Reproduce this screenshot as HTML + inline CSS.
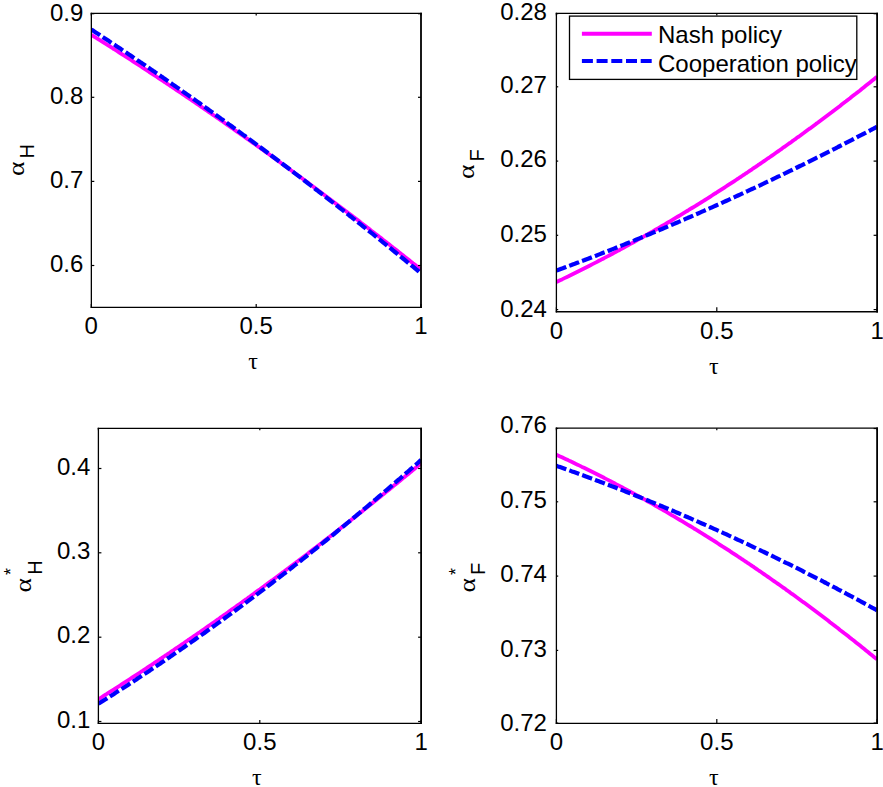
<!DOCTYPE html>
<html><head><meta charset="utf-8"><style>
html,body{margin:0;padding:0;background:#fff;width:883px;height:787px;overflow:hidden}
svg{display:block}
text{font-family:"Liberation Sans", sans-serif;font-size:24px;fill:#000}
</style></head><body>
<svg width="883" height="787" viewBox="0 0 883 787">
<rect width="883" height="787" fill="#fff"/>
<clipPath id="cTL"><rect x="91.3" y="13.4" width="329.6" height="294.0"/></clipPath>
<polyline clip-path="url(#cTL)" points="91.3,34.8 93.0,35.8 95.0,37.1 97.0,38.3 99.0,39.6 101.0,40.8 103.0,42.1 105.0,43.4 107.0,44.6 109.0,45.9 111.0,47.2 113.0,48.5 115.0,49.7 117.0,51.0 119.0,52.3 121.0,53.6 123.0,54.9 125.0,56.1 127.0,57.4 129.0,58.7 131.0,60.0 133.0,61.3 135.0,62.6 137.0,63.9 139.0,65.2 141.0,66.5 143.0,67.8 145.0,69.1 147.0,70.4 149.0,71.8 151.0,73.1 153.0,74.4 155.0,75.7 157.0,77.0 159.0,78.4 161.0,79.7 163.0,81.0 165.0,82.3 167.0,83.7 169.0,85.0 171.0,86.3 173.0,87.7 175.0,89.0 177.0,90.4 179.0,91.7 181.0,93.0 183.0,94.4 185.0,95.7 187.0,97.1 189.0,98.4 191.0,99.8 193.0,101.2 195.0,102.5 197.0,103.9 199.0,105.2 201.0,106.6 203.0,108.0 205.0,109.4 207.0,110.7 209.0,112.1 211.0,113.5 213.0,114.9 215.0,116.2 217.0,117.6 219.0,119.0 221.0,120.4 223.0,121.8 225.0,123.2 227.0,124.6 229.0,126.0 231.0,127.4 233.0,128.8 235.0,130.2 237.0,131.6 239.0,133.0 241.0,134.4 243.0,135.8 245.0,137.2 247.0,138.6 249.0,140.0 251.0,141.5 253.0,142.9 255.0,144.3 257.0,145.7 259.0,147.1 261.0,148.6 263.0,150.0 265.0,151.4 267.0,152.9 269.0,154.3 271.0,155.8 273.0,157.2 275.0,158.6 277.0,160.1 279.0,161.5 281.0,163.0 283.0,164.4 285.0,165.9 287.0,167.3 289.0,168.8 291.0,170.3 293.0,171.7 295.0,173.2 297.0,174.7 299.0,176.1 301.0,177.6 303.0,179.1 305.0,180.5 307.0,182.0 309.0,183.5 311.0,185.0 313.0,186.5 315.0,187.9 317.0,189.4 319.0,190.9 321.0,192.4 323.0,193.9 325.0,195.4 327.0,196.9 329.0,198.4 331.0,199.9 333.0,201.4 335.0,202.9 337.0,204.4 339.0,205.9 341.0,207.4 343.0,208.9 345.0,210.5 347.0,212.0 349.0,213.5 351.0,215.0 353.0,216.6 355.0,218.1 357.0,219.6 359.0,221.1 361.0,222.7 363.0,224.2 365.0,225.7 367.0,227.3 369.0,228.8 371.0,230.4 373.0,231.9 375.0,233.5 377.0,235.0 379.0,236.6 381.0,238.1 383.0,239.7 385.0,241.2 387.0,242.8 389.0,244.3 391.0,245.9 393.0,247.5 395.0,249.0 397.0,250.6 399.0,252.2 401.0,253.8 403.0,255.3 405.0,256.9 407.0,258.5 409.0,260.1 411.0,261.7 413.0,263.3 415.0,264.8 417.0,266.4 419.0,268.0 421.0,269.6" fill="none" stroke="#ff00ff" stroke-width="3.8"  stroke-linejoin="round"/>
<polyline clip-path="url(#cTL)" points="91.3,29.5 93.0,30.6 95.0,31.9 97.0,33.2 99.0,34.5 101.0,35.9 103.0,37.2 105.0,38.5 107.0,39.8 109.0,41.1 111.0,42.5 113.0,43.8 115.0,45.1 117.0,46.5 119.0,47.8 121.0,49.1 123.0,50.5 125.0,51.8 127.0,53.1 129.0,54.5 131.0,55.8 133.0,57.2 135.0,58.5 137.0,59.9 139.0,61.2 141.0,62.6 143.0,63.9 145.0,65.3 147.0,66.7 149.0,68.0 151.0,69.4 153.0,70.8 155.0,72.1 157.0,73.5 159.0,74.9 161.0,76.3 163.0,77.6 165.0,79.0 167.0,80.4 169.0,81.8 171.0,83.2 173.0,84.6 175.0,86.0 177.0,87.4 179.0,88.8 181.0,90.2 183.0,91.6 185.0,93.0 187.0,94.4 189.0,95.8 191.0,97.2 193.0,98.6 195.0,100.0 197.0,101.4 199.0,102.8 201.0,104.3 203.0,105.7 205.0,107.1 207.0,108.5 209.0,110.0 211.0,111.4 213.0,112.8 215.0,114.3 217.0,115.7 219.0,117.1 221.0,118.6 223.0,120.0 225.0,121.5 227.0,122.9 229.0,124.4 231.0,125.8 233.0,127.3 235.0,128.7 237.0,130.2 239.0,131.6 241.0,133.1 243.0,134.6 245.0,136.0 247.0,137.5 249.0,139.0 251.0,140.4 253.0,141.9 255.0,143.4 257.0,144.9 259.0,146.4 261.0,147.8 263.0,149.3 265.0,150.8 267.0,152.3 269.0,153.8 271.0,155.3 273.0,156.8 275.0,158.3 277.0,159.8 279.0,161.3 281.0,162.8 283.0,164.3 285.0,165.8 287.0,167.3 289.0,168.8 291.0,170.3 293.0,171.8 295.0,173.4 297.0,174.9 299.0,176.4 301.0,177.9 303.0,179.5 305.0,181.0 307.0,182.5 309.0,184.1 311.0,185.6 313.0,187.1 315.0,188.7 317.0,190.2 319.0,191.8 321.0,193.3 323.0,194.9 325.0,196.4 327.0,198.0 329.0,199.5 331.0,201.1 333.0,202.6 335.0,204.2 337.0,205.7 339.0,207.3 341.0,208.9 343.0,210.4 345.0,212.0 347.0,213.6 349.0,215.2 351.0,216.7 353.0,218.3 355.0,219.9 357.0,221.5 359.0,223.1 361.0,224.7 363.0,226.3 365.0,227.9 367.0,229.4 369.0,231.0 371.0,232.6 373.0,234.2 375.0,235.8 377.0,237.5 379.0,239.1 381.0,240.7 383.0,242.3 385.0,243.9 387.0,245.5 389.0,247.1 391.0,248.7 393.0,250.4 395.0,252.0 397.0,253.6 399.0,255.2 401.0,256.9 403.0,258.5 405.0,260.1 407.0,261.8 409.0,263.4 411.0,265.1 413.0,266.7 415.0,268.3 417.0,270.0 419.0,271.6 421.0,273.3" fill="none" stroke="#0000ff" stroke-width="4.2" stroke-dasharray="10.5 3.2" stroke-linejoin="round"/>
<line x1="91.35" y1="12.75" x2="91.35" y2="308.10" stroke="#000" stroke-width="1.30"/>
<line x1="421.00" y1="12.75" x2="421.00" y2="308.10" stroke="#000" stroke-width="1.80"/>
<line x1="90.70" y1="13.40" x2="421.90" y2="13.40" stroke="#000" stroke-width="1.30"/>
<line x1="90.70" y1="307.40" x2="421.90" y2="307.40" stroke="#000" stroke-width="1.40"/>
<line x1="91.3" y1="265.5" x2="94.3" y2="265.5" stroke="#000" stroke-width="1.2"/>
<line x1="421.0" y1="265.5" x2="418.0" y2="265.5" stroke="#000" stroke-width="1.2"/>
<text x="83.3" y="271.7" text-anchor="end">0.6</text>
<line x1="91.3" y1="181.4" x2="94.3" y2="181.4" stroke="#000" stroke-width="1.2"/>
<line x1="421.0" y1="181.4" x2="418.0" y2="181.4" stroke="#000" stroke-width="1.2"/>
<text x="83.3" y="187.6" text-anchor="end">0.7</text>
<line x1="91.3" y1="97.3" x2="94.3" y2="97.3" stroke="#000" stroke-width="1.2"/>
<line x1="421.0" y1="97.3" x2="418.0" y2="97.3" stroke="#000" stroke-width="1.2"/>
<text x="83.3" y="103.5" text-anchor="end">0.8</text>
<line x1="91.3" y1="13.7" x2="94.3" y2="13.7" stroke="#000" stroke-width="1.2"/>
<line x1="421.0" y1="13.7" x2="418.0" y2="13.7" stroke="#000" stroke-width="1.2"/>
<text x="83.3" y="20.8" text-anchor="end">0.9</text>
<line x1="91.3" y1="307.4" x2="91.3" y2="303.9" stroke="#000" stroke-width="1.2"/>
<line x1="91.3" y1="13.4" x2="91.3" y2="15.4" stroke="#000" stroke-width="1.2"/>
<text x="91.3" y="334.4" text-anchor="middle">0</text>
<line x1="256.2" y1="307.4" x2="256.2" y2="303.9" stroke="#000" stroke-width="1.2"/>
<line x1="256.2" y1="13.4" x2="256.2" y2="15.4" stroke="#000" stroke-width="1.2"/>
<text x="256.2" y="334.4" text-anchor="middle">0.5</text>
<line x1="421.0" y1="307.4" x2="421.0" y2="303.9" stroke="#000" stroke-width="1.2"/>
<line x1="421.0" y1="13.4" x2="421.0" y2="15.4" stroke="#000" stroke-width="1.2"/>
<text x="421.0" y="334.4" text-anchor="middle">1</text>
<text x="253.2" y="369.4" text-anchor="middle" style='font-family:"Liberation Serif", serif;font-size:24px'>&#964;</text>
<clipPath id="cTR"><rect x="556.4" y="13.4" width="320.7" height="298.3"/></clipPath>
<polyline clip-path="url(#cTR)" points="556.4,282.1 558.0,281.3 560.0,280.3 562.0,279.4 564.0,278.4 566.0,277.4 568.0,276.5 570.0,275.5 572.0,274.5 574.0,273.5 576.0,272.5 578.0,271.5 580.0,270.5 582.0,269.5 584.0,268.5 586.0,267.5 588.0,266.5 590.0,265.5 592.0,264.4 594.0,263.4 596.0,262.4 598.0,261.3 600.0,260.3 602.0,259.2 604.0,258.2 606.0,257.1 608.0,256.1 610.0,255.0 612.0,254.0 614.0,252.9 616.0,251.8 618.0,250.7 620.0,249.7 622.0,248.6 624.0,247.5 626.0,246.4 628.0,245.3 630.0,244.2 632.0,243.1 634.0,242.0 636.0,240.9 638.0,239.7 640.0,238.6 642.0,237.5 644.0,236.4 646.0,235.2 648.0,234.1 650.0,233.0 652.0,231.8 654.0,230.7 656.0,229.5 658.0,228.3 660.0,227.2 662.0,226.0 664.0,224.8 666.0,223.7 668.0,222.5 670.0,221.3 672.0,220.1 674.0,218.9 676.0,217.7 678.0,216.5 680.0,215.3 682.0,214.1 684.0,212.9 686.0,211.7 688.0,210.5 690.0,209.2 692.0,208.0 694.0,206.8 696.0,205.6 698.0,204.3 700.0,203.1 702.0,201.8 704.0,200.6 706.0,199.3 708.0,198.1 710.0,196.8 712.0,195.5 714.0,194.2 716.0,193.0 718.0,191.7 720.0,190.4 722.0,189.1 724.0,187.8 726.0,186.5 728.0,185.2 730.0,183.9 732.0,182.6 734.0,181.3 736.0,180.0 738.0,178.7 740.0,177.3 742.0,176.0 744.0,174.7 746.0,173.3 748.0,172.0 750.0,170.6 752.0,169.3 754.0,167.9 756.0,166.6 758.0,165.2 760.0,163.9 762.0,162.5 764.0,161.1 766.0,159.7 768.0,158.3 770.0,157.0 772.0,155.6 774.0,154.2 776.0,152.8 778.0,151.4 780.0,150.0 782.0,148.6 784.0,147.1 786.0,145.7 788.0,144.3 790.0,142.9 792.0,141.4 794.0,140.0 796.0,138.6 798.0,137.1 800.0,135.7 802.0,134.2 804.0,132.8 806.0,131.3 808.0,129.8 810.0,128.4 812.0,126.9 814.0,125.4 816.0,123.9 818.0,122.5 820.0,121.0 822.0,119.5 824.0,118.0 826.0,116.5 828.0,115.0 830.0,113.5 832.0,112.0 834.0,110.4 836.0,108.9 838.0,107.4 840.0,105.9 842.0,104.3 844.0,102.8 846.0,101.3 848.0,99.7 850.0,98.2 852.0,96.6 854.0,95.0 856.0,93.5 858.0,91.9 860.0,90.4 862.0,88.8 864.0,87.2 866.0,85.6 868.0,84.0 870.0,82.4 872.0,80.8 874.0,79.2 876.0,77.6 877.1,76.8" fill="none" stroke="#ff00ff" stroke-width="3.8"  stroke-linejoin="round"/>
<polyline clip-path="url(#cTR)" points="556.4,270.6 558.0,270.0 560.0,269.3 562.0,268.6 564.0,267.8 566.0,267.1 568.0,266.3 570.0,265.6 572.0,264.8 574.0,264.1 576.0,263.3 578.0,262.6 580.0,261.8 582.0,261.0 584.0,260.3 586.0,259.5 588.0,258.8 590.0,258.0 592.0,257.2 594.0,256.4 596.0,255.7 598.0,254.9 600.0,254.1 602.0,253.3 604.0,252.5 606.0,251.8 608.0,251.0 610.0,250.2 612.0,249.4 614.0,248.6 616.0,247.8 618.0,247.0 620.0,246.2 622.0,245.4 624.0,244.6 626.0,243.8 628.0,243.0 630.0,242.2 632.0,241.4 634.0,240.6 636.0,239.7 638.0,238.9 640.0,238.1 642.0,237.3 644.0,236.5 646.0,235.6 648.0,234.8 650.0,234.0 652.0,233.1 654.0,232.3 656.0,231.5 658.0,230.6 660.0,229.8 662.0,229.0 664.0,228.1 666.0,227.3 668.0,226.4 670.0,225.6 672.0,224.7 674.0,223.9 676.0,223.0 678.0,222.2 680.0,221.3 682.0,220.4 684.0,219.6 686.0,218.7 688.0,217.8 690.0,217.0 692.0,216.1 694.0,215.2 696.0,214.3 698.0,213.5 700.0,212.6 702.0,211.7 704.0,210.8 706.0,209.9 708.0,209.1 710.0,208.2 712.0,207.3 714.0,206.4 716.0,205.5 718.0,204.6 720.0,203.7 722.0,202.8 724.0,201.9 726.0,201.0 728.0,200.1 730.0,199.2 732.0,198.2 734.0,197.3 736.0,196.4 738.0,195.5 740.0,194.6 742.0,193.7 744.0,192.7 746.0,191.8 748.0,190.9 750.0,189.9 752.0,189.0 754.0,188.1 756.0,187.1 758.0,186.2 760.0,185.3 762.0,184.3 764.0,183.4 766.0,182.4 768.0,181.5 770.0,180.5 772.0,179.6 774.0,178.6 776.0,177.7 778.0,176.7 780.0,175.8 782.0,174.8 784.0,173.8 786.0,172.9 788.0,171.9 790.0,170.9 792.0,170.0 794.0,169.0 796.0,168.0 798.0,167.0 800.0,166.0 802.0,165.1 804.0,164.1 806.0,163.1 808.0,162.1 810.0,161.1 812.0,160.1 814.0,159.1 816.0,158.1 818.0,157.1 820.0,156.1 822.0,155.1 824.0,154.1 826.0,153.1 828.0,152.1 830.0,151.1 832.0,150.1 834.0,149.1 836.0,148.1 838.0,147.0 840.0,146.0 842.0,145.0 844.0,144.0 846.0,142.9 848.0,141.9 850.0,140.9 852.0,139.9 854.0,138.8 856.0,137.8 858.0,136.7 860.0,135.7 862.0,134.7 864.0,133.6 866.0,132.6 868.0,131.5 870.0,130.5 872.0,129.4 874.0,128.4 876.0,127.3 877.1,126.7" fill="none" stroke="#0000ff" stroke-width="4.2" stroke-dasharray="10.5 3.2" stroke-linejoin="round"/>
<line x1="556.40" y1="12.75" x2="556.40" y2="312.40" stroke="#000" stroke-width="1.30"/>
<line x1="877.10" y1="12.75" x2="877.10" y2="312.40" stroke="#000" stroke-width="1.80"/>
<line x1="555.75" y1="13.40" x2="878.00" y2="13.40" stroke="#000" stroke-width="1.30"/>
<line x1="555.75" y1="311.70" x2="878.00" y2="311.70" stroke="#000" stroke-width="1.40"/>
<line x1="556.4" y1="309.6" x2="558.2" y2="309.6" stroke="#000" stroke-width="1.2"/>
<line x1="877.1" y1="309.6" x2="873.6" y2="309.6" stroke="#000" stroke-width="1.2"/>
<text x="546.9" y="317.3" text-anchor="end">0.24</text>
<line x1="556.4" y1="235.3" x2="558.2" y2="235.3" stroke="#000" stroke-width="1.2"/>
<line x1="877.1" y1="235.3" x2="873.6" y2="235.3" stroke="#000" stroke-width="1.2"/>
<text x="546.9" y="241.5" text-anchor="end">0.25</text>
<line x1="556.4" y1="161.1" x2="558.2" y2="161.1" stroke="#000" stroke-width="1.2"/>
<line x1="877.1" y1="161.1" x2="873.6" y2="161.1" stroke="#000" stroke-width="1.2"/>
<text x="546.9" y="167.2" text-anchor="end">0.26</text>
<line x1="556.4" y1="86.8" x2="558.2" y2="86.8" stroke="#000" stroke-width="1.2"/>
<line x1="877.1" y1="86.8" x2="873.6" y2="86.8" stroke="#000" stroke-width="1.2"/>
<text x="546.9" y="93.0" text-anchor="end">0.27</text>
<line x1="556.4" y1="13.7" x2="558.2" y2="13.7" stroke="#000" stroke-width="1.2"/>
<line x1="877.1" y1="13.7" x2="873.6" y2="13.7" stroke="#000" stroke-width="1.2"/>
<text x="546.9" y="19.7" text-anchor="end">0.28</text>
<line x1="556.4" y1="311.7" x2="556.4" y2="307.2" stroke="#000" stroke-width="1.2"/>
<line x1="556.4" y1="13.4" x2="556.4" y2="15.4" stroke="#000" stroke-width="1.2"/>
<text x="556.4" y="338.7" text-anchor="middle">0</text>
<line x1="716.8" y1="311.7" x2="716.8" y2="307.2" stroke="#000" stroke-width="1.2"/>
<line x1="716.8" y1="13.4" x2="716.8" y2="15.4" stroke="#000" stroke-width="1.2"/>
<text x="716.8" y="338.7" text-anchor="middle">0.5</text>
<line x1="877.1" y1="311.7" x2="877.1" y2="307.2" stroke="#000" stroke-width="1.2"/>
<line x1="877.1" y1="13.4" x2="877.1" y2="15.4" stroke="#000" stroke-width="1.2"/>
<text x="877.1" y="338.7" text-anchor="middle">1</text>
<text x="713.8" y="373.7" text-anchor="middle" style='font-family:"Liberation Serif", serif;font-size:24px'>&#964;</text>
<clipPath id="cBL"><rect x="98.4" y="428.3" width="322.7" height="295.1"/></clipPath>
<polyline clip-path="url(#cBL)" points="98.4,699.3 100.0,698.3 102.0,697.0 104.0,695.7 106.0,694.5 108.0,693.2 110.0,691.9 112.0,690.6 114.0,689.4 116.0,688.1 118.0,686.8 120.0,685.5 122.0,684.2 124.0,682.9 126.0,681.6 128.0,680.3 130.0,679.0 132.0,677.7 134.0,676.4 136.0,675.1 138.0,673.8 140.0,672.5 142.0,671.2 144.0,669.8 146.0,668.5 148.0,667.2 150.0,665.9 152.0,664.6 154.0,663.2 156.0,661.9 158.0,660.6 160.0,659.2 162.0,657.9 164.0,656.5 166.0,655.2 168.0,653.8 170.0,652.5 172.0,651.1 174.0,649.8 176.0,648.4 178.0,647.1 180.0,645.7 182.0,644.3 184.0,643.0 186.0,641.6 188.0,640.2 190.0,638.9 192.0,637.5 194.0,636.1 196.0,634.7 198.0,633.3 200.0,632.0 202.0,630.6 204.0,629.2 206.0,627.8 208.0,626.4 210.0,625.0 212.0,623.6 214.0,622.2 216.0,620.8 218.0,619.4 220.0,617.9 222.0,616.5 224.0,615.1 226.0,613.7 228.0,612.3 230.0,610.8 232.0,609.4 234.0,608.0 236.0,606.6 238.0,605.1 240.0,603.7 242.0,602.3 244.0,600.8 246.0,599.4 248.0,597.9 250.0,596.5 252.0,595.0 254.0,593.6 256.0,592.1 258.0,590.6 260.0,589.2 262.0,587.7 264.0,586.3 266.0,584.8 268.0,583.3 270.0,581.8 272.0,580.4 274.0,578.9 276.0,577.4 278.0,575.9 280.0,574.4 282.0,572.9 284.0,571.5 286.0,570.0 288.0,568.5 290.0,567.0 292.0,565.5 294.0,564.0 296.0,562.5 298.0,561.0 300.0,559.4 302.0,557.9 304.0,556.4 306.0,554.9 308.0,553.4 310.0,551.8 312.0,550.3 314.0,548.8 316.0,547.3 318.0,545.7 320.0,544.2 322.0,542.7 324.0,541.1 326.0,539.6 328.0,538.0 330.0,536.5 332.0,534.9 334.0,533.4 336.0,531.8 338.0,530.3 340.0,528.7 342.0,527.1 344.0,525.6 346.0,524.0 348.0,522.4 350.0,520.9 352.0,519.3 354.0,517.7 356.0,516.1 358.0,514.5 360.0,513.0 362.0,511.4 364.0,509.8 366.0,508.2 368.0,506.6 370.0,505.0 372.0,503.4 374.0,501.8 376.0,500.2 378.0,498.6 380.0,497.0 382.0,495.3 384.0,493.7 386.0,492.1 388.0,490.5 390.0,488.9 392.0,487.2 394.0,485.6 396.0,484.0 398.0,482.4 400.0,480.7 402.0,479.1 404.0,477.4 406.0,475.8 408.0,474.2 410.0,472.5 412.0,470.9 414.0,469.2 416.0,467.6 418.0,465.9 420.0,464.2 421.1,463.3" fill="none" stroke="#ff00ff" stroke-width="3.8"  stroke-linejoin="round"/>
<polyline clip-path="url(#cBL)" points="98.4,703.8 100.0,702.8 102.0,701.5 104.0,700.2 106.0,699.0 108.0,697.7 110.0,696.4 112.0,695.2 114.0,693.9 116.0,692.6 118.0,691.3 120.0,690.1 122.0,688.8 124.0,687.5 126.0,686.2 128.0,684.9 130.0,683.6 132.0,682.3 134.0,681.0 136.0,679.7 138.0,678.3 140.0,677.0 142.0,675.7 144.0,674.4 146.0,673.1 148.0,671.7 150.0,670.4 152.0,669.0 154.0,667.7 156.0,666.4 158.0,665.0 160.0,663.7 162.0,662.3 164.0,661.0 166.0,659.6 168.0,658.2 170.0,656.9 172.0,655.5 174.0,654.1 176.0,652.8 178.0,651.4 180.0,650.0 182.0,648.6 184.0,647.2 186.0,645.8 188.0,644.4 190.0,643.0 192.0,641.6 194.0,640.2 196.0,638.8 198.0,637.4 200.0,636.0 202.0,634.6 204.0,633.2 206.0,631.7 208.0,630.3 210.0,628.9 212.0,627.5 214.0,626.0 216.0,624.6 218.0,623.1 220.0,621.7 222.0,620.2 224.0,618.8 226.0,617.3 228.0,615.9 230.0,614.4 232.0,613.0 234.0,611.5 236.0,610.0 238.0,608.5 240.0,607.1 242.0,605.6 244.0,604.1 246.0,602.6 248.0,601.1 250.0,599.6 252.0,598.1 254.0,596.6 256.0,595.1 258.0,593.6 260.0,592.1 262.0,590.6 264.0,589.1 266.0,587.6 268.0,586.0 270.0,584.5 272.0,583.0 274.0,581.4 276.0,579.9 278.0,578.4 280.0,576.8 282.0,575.3 284.0,573.7 286.0,572.2 288.0,570.6 290.0,569.1 292.0,567.5 294.0,565.9 296.0,564.4 298.0,562.8 300.0,561.2 302.0,559.7 304.0,558.1 306.0,556.5 308.0,554.9 310.0,553.3 312.0,551.7 314.0,550.1 316.0,548.5 318.0,546.9 320.0,545.3 322.0,543.7 324.0,542.1 326.0,540.5 328.0,538.9 330.0,537.2 332.0,535.6 334.0,534.0 336.0,532.4 338.0,530.7 340.0,529.1 342.0,527.4 344.0,525.8 346.0,524.2 348.0,522.5 350.0,520.8 352.0,519.2 354.0,517.5 356.0,515.9 358.0,514.2 360.0,512.5 362.0,510.9 364.0,509.2 366.0,507.5 368.0,505.8 370.0,504.1 372.0,502.4 374.0,500.7 376.0,499.1 378.0,497.4 380.0,495.7 382.0,493.9 384.0,492.2 386.0,490.5 388.0,488.8 390.0,487.1 392.0,485.4 394.0,483.6 396.0,481.9 398.0,480.2 400.0,478.5 402.0,476.7 404.0,475.0 406.0,473.2 408.0,471.5 410.0,469.7 412.0,468.0 414.0,466.2 416.0,464.5 418.0,462.7 420.0,460.9 421.1,460.0" fill="none" stroke="#0000ff" stroke-width="4.2" stroke-dasharray="10.5 3.2" stroke-linejoin="round"/>
<line x1="98.40" y1="427.65" x2="98.40" y2="724.10" stroke="#000" stroke-width="1.30"/>
<line x1="421.10" y1="427.65" x2="421.10" y2="724.10" stroke="#000" stroke-width="1.80"/>
<line x1="97.75" y1="428.30" x2="422.00" y2="428.30" stroke="#000" stroke-width="1.30"/>
<line x1="97.75" y1="723.40" x2="422.00" y2="723.40" stroke="#000" stroke-width="1.40"/>
<line x1="98.4" y1="721.5" x2="101.4" y2="721.5" stroke="#000" stroke-width="1.2"/>
<line x1="421.1" y1="721.5" x2="418.1" y2="721.5" stroke="#000" stroke-width="1.2"/>
<text x="90.4" y="727.7" text-anchor="end">0.1</text>
<line x1="98.4" y1="637.2" x2="101.4" y2="637.2" stroke="#000" stroke-width="1.2"/>
<line x1="421.1" y1="637.2" x2="418.1" y2="637.2" stroke="#000" stroke-width="1.2"/>
<text x="90.4" y="643.4" text-anchor="end">0.2</text>
<line x1="98.4" y1="552.8" x2="101.4" y2="552.8" stroke="#000" stroke-width="1.2"/>
<line x1="421.1" y1="552.8" x2="418.1" y2="552.8" stroke="#000" stroke-width="1.2"/>
<text x="90.4" y="559.0" text-anchor="end">0.3</text>
<line x1="98.4" y1="468.5" x2="101.4" y2="468.5" stroke="#000" stroke-width="1.2"/>
<line x1="421.1" y1="468.5" x2="418.1" y2="468.5" stroke="#000" stroke-width="1.2"/>
<text x="90.4" y="474.7" text-anchor="end">0.4</text>
<line x1="98.4" y1="723.4" x2="98.4" y2="719.9" stroke="#000" stroke-width="1.2"/>
<line x1="98.4" y1="428.3" x2="98.4" y2="430.3" stroke="#000" stroke-width="1.2"/>
<text x="98.4" y="750.4" text-anchor="middle">0</text>
<line x1="259.8" y1="723.4" x2="259.8" y2="719.9" stroke="#000" stroke-width="1.2"/>
<line x1="259.8" y1="428.3" x2="259.8" y2="430.3" stroke="#000" stroke-width="1.2"/>
<text x="259.8" y="750.4" text-anchor="middle">0.5</text>
<line x1="421.1" y1="723.4" x2="421.1" y2="719.9" stroke="#000" stroke-width="1.2"/>
<line x1="421.1" y1="428.3" x2="421.1" y2="430.3" stroke="#000" stroke-width="1.2"/>
<text x="421.1" y="750.4" text-anchor="middle">1</text>
<text x="256.8" y="785.4" text-anchor="middle" style='font-family:"Liberation Serif", serif;font-size:24px'>&#964;</text>
<clipPath id="cBR"><rect x="556.4" y="428.2" width="320.7" height="295.2"/></clipPath>
<polyline clip-path="url(#cBR)" points="556.4,454.7 558.0,455.5 560.0,456.4 562.0,457.3 564.0,458.3 566.0,459.2 568.0,460.1 570.0,461.1 572.0,462.0 574.0,463.0 576.0,464.0 578.0,464.9 580.0,465.9 582.0,466.9 584.0,467.8 586.0,468.8 588.0,469.8 590.0,470.8 592.0,471.8 594.0,472.8 596.0,473.8 598.0,474.8 600.0,475.8 602.0,476.8 604.0,477.8 606.0,478.9 608.0,479.9 610.0,480.9 612.0,482.0 614.0,483.0 616.0,484.1 618.0,485.1 620.0,486.2 622.0,487.2 624.0,488.3 626.0,489.4 628.0,490.5 630.0,491.5 632.0,492.6 634.0,493.7 636.0,494.8 638.0,495.9 640.0,497.0 642.0,498.1 644.0,499.2 646.0,500.3 648.0,501.5 650.0,502.6 652.0,503.7 654.0,504.8 656.0,506.0 658.0,507.1 660.0,508.3 662.0,509.4 664.0,510.6 666.0,511.7 668.0,512.9 670.0,514.1 672.0,515.3 674.0,516.4 676.0,517.6 678.0,518.8 680.0,520.0 682.0,521.2 684.0,522.4 686.0,523.6 688.0,524.8 690.0,526.0 692.0,527.2 694.0,528.5 696.0,529.7 698.0,530.9 700.0,532.2 702.0,533.4 704.0,534.6 706.0,535.9 708.0,537.1 710.0,538.4 712.0,539.7 714.0,540.9 716.0,542.2 718.0,543.5 720.0,544.8 722.0,546.1 724.0,547.3 726.0,548.6 728.0,549.9 730.0,551.2 732.0,552.6 734.0,553.9 736.0,555.2 738.0,556.5 740.0,557.8 742.0,559.2 744.0,560.5 746.0,561.8 748.0,563.2 750.0,564.5 752.0,565.9 754.0,567.2 756.0,568.6 758.0,570.0 760.0,571.3 762.0,572.7 764.0,574.1 766.0,575.5 768.0,576.9 770.0,578.3 772.0,579.7 774.0,581.1 776.0,582.5 778.0,583.9 780.0,585.3 782.0,586.7 784.0,588.1 786.0,589.6 788.0,591.0 790.0,592.4 792.0,593.9 794.0,595.3 796.0,596.8 798.0,598.2 800.0,599.7 802.0,601.2 804.0,602.6 806.0,604.1 808.0,605.6 810.0,607.1 812.0,608.6 814.0,610.1 816.0,611.6 818.0,613.1 820.0,614.6 822.0,616.1 824.0,617.6 826.0,619.1 828.0,620.6 830.0,622.2 832.0,623.7 834.0,625.2 836.0,626.8 838.0,628.3 840.0,629.9 842.0,631.4 844.0,633.0 846.0,634.5 848.0,636.1 850.0,637.7 852.0,639.3 854.0,640.8 856.0,642.4 858.0,644.0 860.0,645.6 862.0,647.2 864.0,648.8 866.0,650.4 868.0,652.0 870.0,653.7 872.0,655.3 874.0,656.9 876.0,658.5 877.1,659.4" fill="none" stroke="#ff00ff" stroke-width="3.8"  stroke-linejoin="round"/>
<polyline clip-path="url(#cBR)" points="556.4,465.8 558.0,466.4 560.0,467.1 562.0,467.8 564.0,468.5 566.0,469.2 568.0,469.9 570.0,470.6 572.0,471.4 574.0,472.1 576.0,472.8 578.0,473.5 580.0,474.3 582.0,475.0 584.0,475.7 586.0,476.5 588.0,477.2 590.0,477.9 592.0,478.7 594.0,479.4 596.0,480.2 598.0,480.9 600.0,481.7 602.0,482.4 604.0,483.2 606.0,484.0 608.0,484.7 610.0,485.5 612.0,486.3 614.0,487.0 616.0,487.8 618.0,488.6 620.0,489.4 622.0,490.1 624.0,490.9 626.0,491.7 628.0,492.5 630.0,493.3 632.0,494.1 634.0,494.9 636.0,495.7 638.0,496.5 640.0,497.3 642.0,498.1 644.0,498.9 646.0,499.7 648.0,500.5 650.0,501.4 652.0,502.2 654.0,503.0 656.0,503.8 658.0,504.6 660.0,505.5 662.0,506.3 664.0,507.1 666.0,508.0 668.0,508.8 670.0,509.7 672.0,510.5 674.0,511.3 676.0,512.2 678.0,513.0 680.0,513.9 682.0,514.8 684.0,515.6 686.0,516.5 688.0,517.3 690.0,518.2 692.0,519.1 694.0,520.0 696.0,520.8 698.0,521.7 700.0,522.6 702.0,523.5 704.0,524.3 706.0,525.2 708.0,526.1 710.0,527.0 712.0,527.9 714.0,528.8 716.0,529.7 718.0,530.6 720.0,531.5 722.0,532.4 724.0,533.3 726.0,534.2 728.0,535.2 730.0,536.1 732.0,537.0 734.0,537.9 736.0,538.8 738.0,539.8 740.0,540.7 742.0,541.6 744.0,542.6 746.0,543.5 748.0,544.4 750.0,545.4 752.0,546.3 754.0,547.3 756.0,548.2 758.0,549.2 760.0,550.1 762.0,551.1 764.0,552.0 766.0,553.0 768.0,554.0 770.0,554.9 772.0,555.9 774.0,556.9 776.0,557.8 778.0,558.8 780.0,559.8 782.0,560.8 784.0,561.8 786.0,562.8 788.0,563.7 790.0,564.7 792.0,565.7 794.0,566.7 796.0,567.7 798.0,568.7 800.0,569.7 802.0,570.7 804.0,571.8 806.0,572.8 808.0,573.8 810.0,574.8 812.0,575.8 814.0,576.8 816.0,577.9 818.0,578.9 820.0,579.9 822.0,580.9 824.0,582.0 826.0,583.0 828.0,584.1 830.0,585.1 832.0,586.1 834.0,587.2 836.0,588.2 838.0,589.3 840.0,590.3 842.0,591.4 844.0,592.5 846.0,593.5 848.0,594.6 850.0,595.7 852.0,596.7 854.0,597.8 856.0,598.9 858.0,599.9 860.0,601.0 862.0,602.1 864.0,603.2 866.0,604.3 868.0,605.4 870.0,606.5 872.0,607.6 874.0,608.6 876.0,609.7 877.1,610.4" fill="none" stroke="#0000ff" stroke-width="4.2" stroke-dasharray="10.5 3.2" stroke-linejoin="round"/>
<line x1="556.40" y1="427.55" x2="556.40" y2="724.10" stroke="#000" stroke-width="1.30"/>
<line x1="877.10" y1="427.55" x2="877.10" y2="724.10" stroke="#000" stroke-width="1.80"/>
<line x1="555.75" y1="428.20" x2="878.00" y2="428.20" stroke="#000" stroke-width="1.30"/>
<line x1="555.75" y1="723.40" x2="878.00" y2="723.40" stroke="#000" stroke-width="1.40"/>
<line x1="556.4" y1="723.1" x2="558.2" y2="723.1" stroke="#000" stroke-width="1.2"/>
<line x1="877.1" y1="723.1" x2="873.6" y2="723.1" stroke="#000" stroke-width="1.2"/>
<text x="546.9" y="730.9" text-anchor="end">0.72</text>
<line x1="556.4" y1="650.4" x2="558.2" y2="650.4" stroke="#000" stroke-width="1.2"/>
<line x1="877.1" y1="650.4" x2="873.6" y2="650.4" stroke="#000" stroke-width="1.2"/>
<text x="546.9" y="656.6" text-anchor="end">0.73</text>
<line x1="556.4" y1="576.1" x2="558.2" y2="576.1" stroke="#000" stroke-width="1.2"/>
<line x1="877.1" y1="576.1" x2="873.6" y2="576.1" stroke="#000" stroke-width="1.2"/>
<text x="546.9" y="582.3" text-anchor="end">0.74</text>
<line x1="556.4" y1="501.8" x2="558.2" y2="501.8" stroke="#000" stroke-width="1.2"/>
<line x1="877.1" y1="501.8" x2="873.6" y2="501.8" stroke="#000" stroke-width="1.2"/>
<text x="546.9" y="508.0" text-anchor="end">0.75</text>
<line x1="556.4" y1="428.5" x2="558.2" y2="428.5" stroke="#000" stroke-width="1.2"/>
<line x1="877.1" y1="428.5" x2="873.6" y2="428.5" stroke="#000" stroke-width="1.2"/>
<text x="546.9" y="432.9" text-anchor="end">0.76</text>
<line x1="556.4" y1="723.4" x2="556.4" y2="718.9" stroke="#000" stroke-width="1.2"/>
<line x1="556.4" y1="428.2" x2="556.4" y2="430.2" stroke="#000" stroke-width="1.2"/>
<text x="556.4" y="750.4" text-anchor="middle">0</text>
<line x1="716.8" y1="723.4" x2="716.8" y2="718.9" stroke="#000" stroke-width="1.2"/>
<line x1="716.8" y1="428.2" x2="716.8" y2="430.2" stroke="#000" stroke-width="1.2"/>
<text x="716.8" y="750.4" text-anchor="middle">0.5</text>
<line x1="877.1" y1="723.4" x2="877.1" y2="718.9" stroke="#000" stroke-width="1.2"/>
<line x1="877.1" y1="428.2" x2="877.1" y2="430.2" stroke="#000" stroke-width="1.2"/>
<text x="877.1" y="750.4" text-anchor="middle">1</text>
<text x="713.8" y="785.4" text-anchor="middle" style='font-family:"Liberation Serif", serif;font-size:24px'>&#964;</text>
<text transform="translate(24.0,176.0) rotate(-90) scale(1.15,1)" style='font-family:"Liberation Serif", serif;font-size:24px'>&#945;</text><text transform="translate(34.0,158.5) rotate(-90)" style="font-size:20px">H</text>
<text transform="translate(474.0,179.0) rotate(-90) scale(1.15,1)" style='font-family:"Liberation Serif", serif;font-size:24px'>&#945;</text><text transform="translate(484.3,161.5) rotate(-90)" style="font-size:20px">F</text>
<text transform="translate(31.3,592.6) rotate(-90) scale(1.15,1)" style='font-family:"Liberation Serif", serif;font-size:24px'>&#945;</text><text transform="translate(41.8,574.7) rotate(-90)" style="font-size:20px">H</text><text transform="translate(17.0,575.0) rotate(-90)" style="font-size:18px">*</text>
<text transform="translate(474.5,592.6) rotate(-90) scale(1.15,1)" style='font-family:"Liberation Serif", serif;font-size:24px'>&#945;</text><text transform="translate(485.0,575.0) rotate(-90)" style="font-size:20px">F</text><text transform="translate(462.0,575.0) rotate(-90)" style="font-size:18px">*</text>
<rect x="569.5" y="16.1" width="287.3" height="63.3" fill="#fff" stroke="#000" stroke-width="1.3"/>
<line x1="581.9" y1="33.8" x2="651.8" y2="33.8" stroke="#ff00ff" stroke-width="4.1"/>
<line x1="581.9" y1="61" x2="651.8" y2="61" stroke="#0000ff" stroke-width="4.1" stroke-dasharray="11 3.7"/>
<text x="658" y="42.6">Nash policy</text>
<text x="658" y="71.5">Cooperation policy</text>
</svg>
</body></html>
